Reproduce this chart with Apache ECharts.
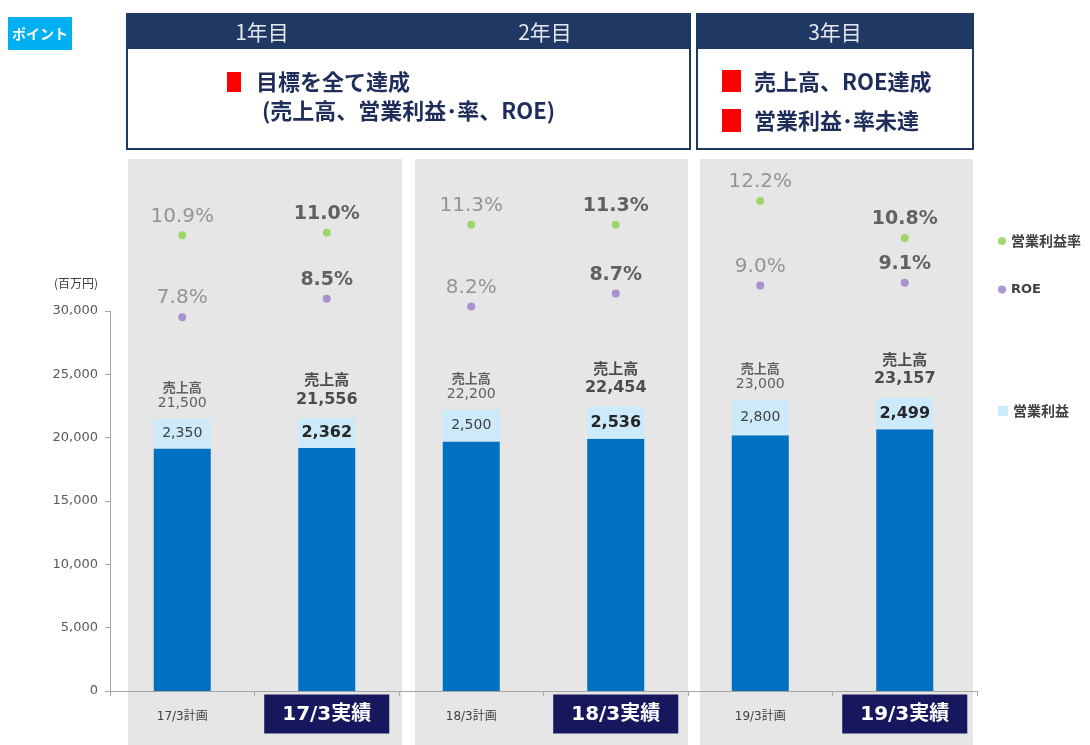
<!DOCTYPE html>
<html>
<head>
    <meta charset="utf-8">
    <title>中期経営計画 達成状況</title>
    <script src="https://cdn.jsdelivr.net/npm/echarts@6/dist/echarts.min.js"></script>
    <style>
        html, body { margin: 0; padding: 0; background: #fff; }
        #chartmain { width: 1090px; height: 745px; }
    </style>
</head>
<body>
<div id="chartmain"></div>
<script type="text/javascript">
    // データ
    var categories = ['17/3計画', '17/3実績', '18/3計画', '18/3実績', '19/3計画', '19/3実績'];
    var sales = [21500, 21556, 22200, 22454, 23000, 23157];   // 売上高
    var opProfit = [2350, 2362, 2500, 2536, 2800, 2499];       // 営業利益
    var opMargin = [10.9, 11.0, 11.3, 11.3, 12.2, 10.8];       // 営業利益率(%)
    var roe = [7.8, 8.5, 8.2, 8.7, 9.0, 9.1];                  // ROE(%)
    var yTicks = [0, 5000, 10000, 15000, 20000, 25000, 30000];
    var yearTitles = ['1年目', '2年目', '3年目'];

    var NUM = '"DejaVu Sans", "Noto Sans CJK JP", sans-serif';
    var JP = '"Noto Sans CJK JP", sans-serif';
    var NAVY = '#1f3864';

    function isActual(i) { return categories[i].indexOf('実績') >= 0; }
    function comma(n) { return String(n).replace(/\B(?=(\d{3})+(?!\d))/g, ','); }

    // 棒の下側 = 売上高 - 営業利益
    var baseData = sales.map(function (v, i) { return v - opProfit[i]; });

    var profitData = opProfit.map(function (v, i) {
        var a = isActual(i);
        return {
            value: v,
            label: {
                show: true, position: 'inside', formatter: comma(v),
                fontFamily: NUM, fontSize: a ? 16 : 14, fontWeight: a ? 'bold' : 'normal',
                color: a ? '#262626' : '#404040'
            }
        };
    });

    var salesLabelData = sales.map(function (v, i) {
        var a = isActual(i);
        return {
            value: v,
            label: {
                show: true, position: 'top', distance: a ? 8 : 6,
                formatter: '{t|売上高}\n{v|' + comma(v) + '}',
                rich: {
                    t: { fontFamily: JP, fontSize: a ? 15 : 13, fontWeight: 'bold', color: a ? '#262626' : '#404040',
                         lineHeight: a ? 20 : 17, align: 'center' },
                    v: { fontFamily: NUM, fontSize: a ? 16 : 14, fontWeight: a ? 'bold' : 'normal',
                         color: a ? '#262626' : '#404040', lineHeight: a ? 20 : 17, align: 'center' }
                }
            }
        };
    });

    function pctData(arr) {
        return arr.map(function (v, i) {
            var a = isActual(i);
            return {
                value: v,
                label: {
                    show: true, position: 'top', distance: 5,
                    formatter: v.toFixed(1) + '%',
                    fontFamily: NUM, fontSize: a ? 19 : 20, fontWeight: a ? 'bold' : 'normal',
                    color: a ? '#404040' : '#7f7f7f'
                }
            };
        });
    }

    // 背景パネル・見出し
    var panels = [[128, 274], [415, 273], [700, 273]];
    var graphics = [];
    panels.forEach(function (p) {
        graphics.push({ type: 'rect', z: -10, shape: { x: p[0], y: 159, width: p[1], height: 600 },
            style: { fill: '#e6e6e6' } });
    });
    var bodyFont = 'bold 22px ' + JP;
    var headFont = '21px ' + JP;
    graphics.push(
        { type: 'rect', shape: { x: 8, y: 17, width: 64, height: 33 }, style: { fill: '#00b0f0' } },
        { type: 'text', x: 40, y: 34, style: { text: 'ポイント', fill: '#fff', font: 'bold 14px ' + JP,
            textAlign: 'center', textVerticalAlign: 'middle' } },
        // 1年目・2年目
        { type: 'rect', shape: { x: 127, y: 14, width: 563, height: 135 }, style: { fill: '#fff', stroke: NAVY, lineWidth: 2 } },
        { type: 'rect', shape: { x: 127, y: 14, width: 563, height: 35 }, style: { fill: NAVY } },
        { type: 'text', x: 262, y: 32, style: { text: yearTitles[0], fill: '#e6e8f0', font: headFont, textAlign: 'center', textVerticalAlign: 'middle' } },
        { type: 'text', x: 545, y: 32, style: { text: yearTitles[1], fill: '#e6e8f0', font: headFont, textAlign: 'center', textVerticalAlign: 'middle' } },
        { type: 'rect', shape: { x: 227, y: 72, width: 14, height: 20 }, style: { fill: '#ff0000' } },
        { type: 'text', x: 256, y: 82, style: { text: '目標を全て達成', fill: '#1f2d5a', font: bodyFont, textVerticalAlign: 'middle' } },
        { type: 'text', x: 262, y: 111, style: { text: '(売上高、営業利益･率、ROE)', fill: '#1f2d5a', font: bodyFont, textVerticalAlign: 'middle' } },
        // 3年目
        { type: 'rect', shape: { x: 697, y: 14, width: 276, height: 135 }, style: { fill: '#fff', stroke: NAVY, lineWidth: 2 } },
        { type: 'rect', shape: { x: 697, y: 14, width: 276, height: 35 }, style: { fill: NAVY } },
        { type: 'text', x: 835, y: 32, style: { text: yearTitles[2], fill: '#e6e8f0', font: headFont, textAlign: 'center', textVerticalAlign: 'middle' } },
        { type: 'rect', shape: { x: 722, y: 70, width: 19, height: 22 }, style: { fill: '#ff0000' } },
        { type: 'text', x: 754, y: 82, style: { text: '売上高、ROE達成', fill: '#1f2d5a', font: bodyFont, textVerticalAlign: 'middle' } },
        { type: 'rect', shape: { x: 722, y: 109, width: 19, height: 23 }, style: { fill: '#ff0000' } },
        { type: 'text', x: 754, y: 121, style: { text: '営業利益･率未達', fill: '#1f2d5a', font: bodyFont, textVerticalAlign: 'middle' } }
    );

    var myChart = echarts.init(document.getElementById('chartmain'));
    myChart.setOption({
        animation: false,
        backgroundColor: '#fff',
        graphic: graphics,
        legend: [
            { data: ['営業利益率'], left: 993, top: 229, icon: 'circle', itemWidth: 8, itemHeight: 8, itemGap: 4,
              textStyle: { fontFamily: JP, fontSize: 14, fontWeight: 'bold', color: '#404040' } },
            { data: ['ROE'], left: 993, top: 278, icon: 'circle', itemWidth: 8, itemHeight: 8,
              textStyle: { fontFamily: NUM, fontSize: 13, fontWeight: 'bold', color: '#404040' } },
            { data: ['営業利益'], left: 993, top: 399, icon: 'rect', itemWidth: 10, itemHeight: 10,
              textStyle: { fontFamily: JP, fontSize: 14, fontWeight: 'bold', color: '#404040' } }
        ],
        grid: [
            { left: 110, width: 867, top: 311, height: 380 },
            { left: 110, width: 867, top: 153.5, height: 211.2 }
        ],
        xAxis: [
            {
                type: 'category', gridIndex: 0, data: categories,
                axisLine: { lineStyle: { color: '#a6a6a6' } },
                axisTick: { show: true, length: 5, lineStyle: { color: '#a6a6a6' } },
                axisLabel: {
                    margin: 12, interval: 0,
                    formatter: function (v) { return v.indexOf('実績') >= 0 ? '{a|' + v + '}' : '{p|' + v + '}'; },
                    rich: {
                        a: { fontFamily: NUM, fontSize: 20, fontWeight: 'bold', color: '#fff', backgroundColor: '#17175e',
                             padding: [10, 18, 9, 18], lineHeight: 22 },
                        p: { fontFamily: NUM, fontSize: 12, color: '#404040', padding: [13, 0, 0, 0], lineHeight: 14 }
                    }
                }
            },
            { type: 'category', gridIndex: 1, data: categories, show: false }
        ],
        yAxis: [
            {
                type: 'value', gridIndex: 0,
                min: yTicks[0], max: yTicks[yTicks.length - 1], interval: yTicks[1] - yTicks[0],
                name: '(百万円)', nameLocation: 'end', nameGap: 22,
                nameTextStyle: { fontFamily: JP, fontSize: 12, color: '#404040', align: 'right', padding: [0, 12, 0, 0] },
                axisLine: { show: true, lineStyle: { color: '#a6a6a6' } },
                axisTick: { show: true, length: 5, lineStyle: { color: '#a6a6a6' } },
                splitLine: { show: false },
                axisLabel: { formatter: comma, fontFamily: NUM, fontSize: 13, color: '#595959', margin: 12 }
            },
            { type: 'value', gridIndex: 1, min: 6, max: 14, show: false, splitLine: { show: false } }
        ],
        series: [
            {
                name: '売上高', type: 'bar', stack: 'uri', barWidth: 57, xAxisIndex: 0, yAxisIndex: 0,
                itemStyle: { color: '#0070c0' }, data: baseData
            },
            {
                name: '営業利益', type: 'bar', stack: 'uri', barWidth: 57, xAxisIndex: 0, yAxisIndex: 0,
                itemStyle: { color: '#cdeafa' }, data: profitData
            },
            {
                name: '売上高ラベル', type: 'scatter', xAxisIndex: 0, yAxisIndex: 0, symbolSize: 1, silent: true,
                itemStyle: { color: 'rgba(0,0,0,0)' }, data: salesLabelData
            },
            {
                name: '営業利益率', type: 'scatter', xAxisIndex: 1, yAxisIndex: 1, symbolSize: 8,
                itemStyle: { color: '#8fd14f' }, data: pctData(opMargin)
            },
            {
                name: 'ROE', type: 'scatter', xAxisIndex: 1, yAxisIndex: 1, symbolSize: 8,
                itemStyle: { color: '#9a7cc4' }, data: pctData(roe)
            }
        ]
    });
</script>
</body>
</html>
